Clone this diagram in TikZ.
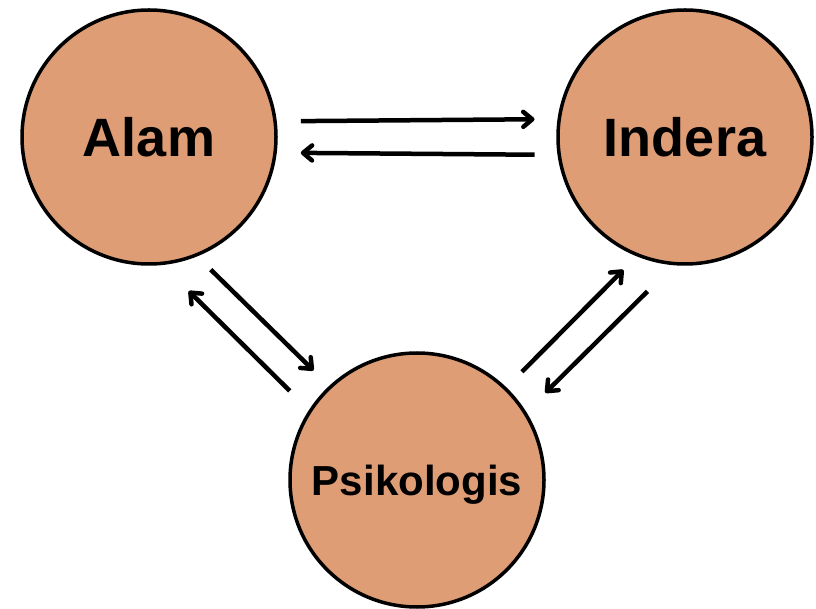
\documentclass[tikz,border=0pt]{standalone}
\usepackage{fontspec}
\setmainfont{Liberation Sans}
\usetikzlibrary{arrows.meta}
\definecolor{clay}{RGB}{222,157,117}
\tikzset{
  ball/.style={circle, draw=black, line width=3.5pt, fill=clay, minimum size=254pt,
    inner sep=0pt, text depth=0pt},
  arr/.style={line width=4.5pt, -{Straight Barb[length=9pt,width=15pt,round]}}
}
\begin{document}
\begin{tikzpicture}[x=1pt,y=1pt]
\useasboundingbox (0,0) rectangle (816,608);
\node[ball, text height=39pt, font=\bfseries\fontsize{54}{60}\selectfont] (Alam) at (149,471) {Alam};
\node[ball, text height=39pt, font=\bfseries\fontsize{54}{60}\selectfont] (Indera) at (685,471) {Indera};
\node[ball, text height=30pt, font=\bfseries\fontsize{42}{48}\selectfont] (Psikologis) at (417,128) {Psikologis};
% Alam <-> Indera
\draw[arr, shorten <=24pt, shorten >=23pt] (Alam.7.2) -- (Indera.172.8);
\draw[arr, shorten <=23pt, shorten >=24pt] (Indera.-172.3) -- (Alam.-7.7);
% Alam <-> Psikologis
\draw[arr, shorten <=19pt, shorten >=22pt] (Alam.-68) -- (Psikologis.133.3);
\draw[arr, shorten <=27pt, shorten >=37pt] (Psikologis.147.5) -- (Alam.-84.6);
% Psikologis <-> Indera
\draw[arr, shorten <=22pt, shorten >=19pt] (Psikologis.46.7) -- (Indera.-112);
\draw[arr, shorten <=37pt, shorten >=27pt] (Indera.-95.4) -- (Psikologis.32.5);
\end{tikzpicture}
\end{document}
